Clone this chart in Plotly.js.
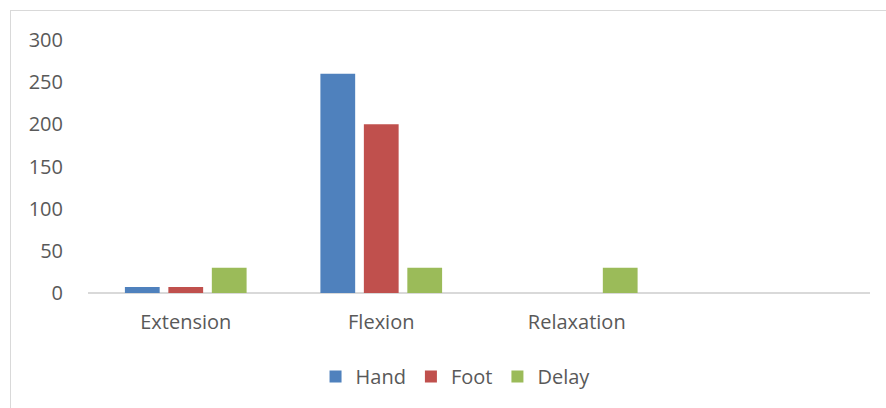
<!DOCTYPE html>
<html>
<head>
<meta charset="utf-8">
<script src="https://cdn.plot.ly/plotly-3.0.1.min.js"></script>
<style>
html,body{margin:0;padding:0;background:#fff;overflow:hidden;}
#wrap{position:relative;width:886px;height:408px;}
#chart{position:absolute;left:0;top:0;width:886px;height:408px;}
#frame{position:absolute;left:10px;top:10px;width:900px;height:420px;border-left:1px solid #d9d9d9;border-top:1px solid #d9d9d9;pointer-events:none;}
</style>
</head>
<body>
<div id="wrap"><div id="chart"></div><div id="frame"></div></div>
<script>
const categories = ['Extension', 'Flexion', 'Relaxation'];
const hand = [7, 260, 0];
const foot = [7, 200, 0];
const delay = [30, 30, 30];
const seriesNames = ['Hand', 'Foot', 'Delay'];
const yTicks = [0, 50, 100, 150, 200, 250, 300];

const colors = ['#4f81bd', '#c0504d', '#9bbb59'];
const values = [hand, foot, delay];

const traces = values.map((v, i) => ({
  type: 'bar',
  name: seriesNames[i],
  x: categories,
  y: v,
  marker: {color: colors[i], line: {width: 0}},
  hoverinfo: 'none'
}));

const font = "'Open Sans', sans-serif";
const layout = {
  width: 886, height: 408,
  margin: {l: 88, r: 16, t: 40, b: 115},
  paper_bgcolor: '#ffffff', plot_bgcolor: '#ffffff',
  barmode: 'group',
  bargap: 0.333,
  bargroupgap: 0.2,
  showlegend: true,
  legend: {orientation: 'h', x: 0.47, xanchor: 'center', y: -0.33, yanchor: 'middle',
           font: {family: font, size: 20, color: '#595959'}, itemwidth: 30, traceorder: 'normal'},
  xaxis: {type: 'category', range: [-0.5, 3.5], showgrid: false, zeroline: false,
          showline: false, ticks: '', tickfont: {family: font, size: 20, color: '#595959'},
          ticklabelstandoff: 15},
  yaxis: {range: [0, 300], tickvals: yTicks, ticktext: yTicks.map(String), showgrid: false,
          zeroline: true, zerolinecolor: '#d9d9d9', zerolinewidth: 1.5, showline: false, ticks: '',
          tickfont: {family: font, size: 20, color: '#595959'}, ticklabelstandoff: 24}
};
Plotly.newPlot('chart', traces, layout, {displayModeBar: false, staticPlot: true});
</script>
</body>
</html>
